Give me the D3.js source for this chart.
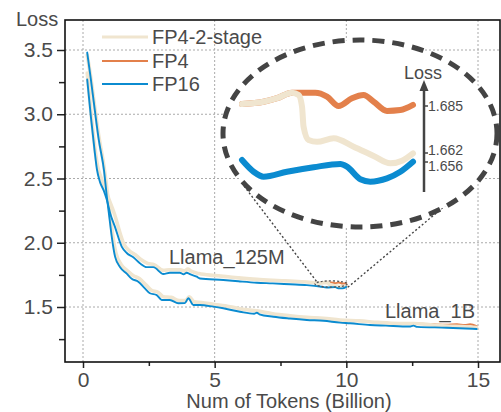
<!DOCTYPE html>
<html><head><meta charset="utf-8">
<script src="https://cdn.jsdelivr.net/npm/d3@7"></script>
<style>body{margin:0;background:#fff}svg{display:block;font-family:"Liberation Sans",Arial,sans-serif}</style>
</head><body><div id="c"></div>
<script>
// ---------- data ----------
const seriesNames = ["FP4-2-stage", "FP4", "FP16"];
const xTicks = [0, 5, 10, 15];
const yTicks = [1.5, 2.0, 2.5, 3.0, 3.5];
const xMinor = [2.5, 7.5, 12.5];
const yMinor = [1.25, 1.75, 2.25, 2.75, 3.25];
const insetTicks = [1.685, 1.662, 1.656];
const modelLabels = ["Llama_125M", "Llama_1B"];

// Llama_125M
const m125_fp16_t = [0.16,0.30,0.45,0.53,0.65,0.80,0.91,1.03,1.22,1.47,1.66,1.91,2.16,2.42,2.67,3.05,3.30,3.68,3.82,3.94,4.06,4.32,4.44,5.33,5.9,6.6,7.2,7.86,8.5,9.0,9.26,9.58,9.69,9.85,10.0];
const m125_fp16_v = [3.27,2.98,2.70,2.57,2.47,2.40,2.33,2.23,2.12,1.97,1.92,1.887,1.84,1.81,1.81,1.757,1.767,1.767,1.755,1.767,1.755,1.736,1.722,1.71,1.70,1.689,1.684,1.677,1.670,1.660,1.652,1.655,1.645,1.645,1.656];
const m125_fp42_t = [0.16,0.30,0.45,0.55,0.70,0.85,1.0,1.2,1.4,1.55,1.75,2.0,2.2,2.45,2.7,3.05,3.3,3.7,3.85,3.98,4.1,4.4,5.0,5.5,6.0,6.6,7.2,7.86,8.5,9.0,9.29,9.36,9.5,9.7,9.87,10.0];
const m125_fp42_v = [3.32,3.02,2.74,2.60,2.50,2.42,2.33,2.22,2.08,1.99,1.94,1.905,1.87,1.84,1.83,1.785,1.79,1.79,1.78,1.795,1.78,1.76,1.745,1.735,1.725,1.715,1.708,1.702,1.695,1.686,1.6915,1.675,1.668,1.662,1.655,1.662];
const m125_fp4_t = [0.16,0.30,0.45,0.55,0.70,0.85,1.0,1.2,1.4,1.55,1.75,2.0,2.2,2.45,2.7,3.05,3.3,3.7,3.85,3.98,4.1,4.4,5.0,5.5,6.0,6.6,7.2,7.86,8.5,9.0,9.29,9.43,9.57,9.71,9.85,10.0];
const m125_fp4_v = [3.32,3.02,2.74,2.60,2.50,2.42,2.33,2.22,2.08,1.99,1.94,1.905,1.87,1.84,1.83,1.785,1.79,1.79,1.78,1.795,1.78,1.76,1.745,1.735,1.725,1.715,1.708,1.702,1.695,1.686,1.6915,1.6915,1.685,1.690,1.683,1.6855];

// Llama_1B
const m1b_fp16_t = [0.16,0.30,0.45,0.60,0.80,0.91,1.0,1.09,1.22,1.41,1.66,1.85,2.10,2.35,2.54,2.80,2.99,3.30,3.62,3.87,4.0,4.19,4.44,4.95,5.33,5.96,6.5,6.6,6.7,7.23,7.86,8.5,9.13,9.76,10.14,10.9,11.5,12.4,12.55,12.7,13.81,14.95];
const m1b_fp16_v = [3.48,3.27,3.03,2.80,2.56,2.35,2.20,2.05,1.89,1.81,1.76,1.72,1.697,1.645,1.607,1.593,1.555,1.555,1.529,1.53,1.568,1.516,1.516,1.503,1.49,1.463,1.447,1.455,1.443,1.424,1.41,1.399,1.393,1.378,1.373,1.36,1.355,1.348,1.355,1.345,1.339,1.329];
const m1b_fp42_t = [0.16,0.30,0.45,0.60,0.80,0.93,1.03,1.12,1.25,1.45,1.7,1.9,2.15,2.4,2.6,2.85,3.05,3.35,3.65,3.9,4.03,4.22,4.5,5.0,5.4,6.0,6.6,7.2,7.86,8.5,9.13,9.76,10.5,11.2,12.0,12.55,13.3,13.8,14.4,14.95];
const m1b_fp42_v = [3.46,3.28,3.05,2.83,2.59,2.38,2.22,2.07,1.92,1.83,1.78,1.745,1.72,1.67,1.63,1.615,1.58,1.575,1.55,1.55,1.58,1.54,1.535,1.52,1.51,1.485,1.47,1.448,1.432,1.42,1.413,1.398,1.392,1.38,1.372,1.372,1.36,1.352,1.348,1.340];
const m1b_fp4_t = [0.16,0.30,0.45,0.60,0.80,0.93,1.03,1.12,1.25,1.45,1.7,1.9,2.15,2.4,2.6,2.85,3.05,3.35,3.65,3.9,4.03,4.22,4.5,5.0,5.4,6.0,6.6,7.2,7.86,8.5,9.13,9.76,10.5,11.2,12.0,12.55,13.3,13.8,14.2,14.5,14.7,14.95];
const m1b_fp4_v = [3.46,3.28,3.05,2.83,2.59,2.38,2.22,2.07,1.92,1.83,1.78,1.745,1.72,1.67,1.63,1.615,1.58,1.575,1.55,1.55,1.58,1.54,1.535,1.52,1.51,1.485,1.47,1.448,1.432,1.42,1.413,1.398,1.392,1.38,1.372,1.372,1.365,1.362,1.365,1.36,1.366,1.35];

// Zoomed inset (Llama_125M, 9-10B tokens)
const zoomT = [8.81, 10.03];
const zoomV = [1.582, 1.776];
const in_fp42_t = [9.000,9.126,9.205,9.292,9.331,9.351,9.360,9.389,9.439,9.536,9.653,9.770,9.867,9.936,10.0];
const in_fp42_v = [1.6860,1.6871,1.6888,1.6915,1.6904,1.6847,1.6749,1.6684,1.6675,1.6692,1.6651,1.6600,1.6551,1.6569,1.6618];
const in_fp4_t = [9.000,9.126,9.205,9.292,9.429,9.497,9.565,9.643,9.711,9.770,9.848,9.926,10.0];
const in_fp4_v = [1.6860,1.6871,1.6888,1.6915,1.6915,1.6896,1.6850,1.6888,1.6904,1.6871,1.6826,1.6830,1.6855];
const in_fp16_t = [9.000,9.068,9.126,9.263,9.419,9.575,9.614,9.692,9.750,9.848,9.926,10.0];
const in_fp16_v = [1.6573,1.6495,1.6462,1.6495,1.6525,1.6547,1.6529,1.6445,1.6429,1.6451,1.6495,1.6562];

// ---------- drawing ----------
const W = 501, H = 412;
const colors = {"FP4-2-stage":"#f0e5cf", "FP4":"#e3804b", "FP16":"#0b8bd0"};
const txt = "#4a4a4a";
const svg = d3.select("#c").append("svg").attr("width", W).attr("height", H);
const L = 65, R = 500, T = 20, B = 362;
const x = d3.scaleLinear().domain([0, 15]).range([83, 478]);
const y = d3.scaleLinear().domain([1.5, 3.5]).range([307, 50]);

// grid
const grid = svg.append("g").attr("stroke", "#aaa").attr("stroke-width", 1).attr("stroke-dasharray", "2,2");
xTicks.forEach(t => grid.append("line").attr("x1", x(t)).attr("x2", x(t)).attr("y1", T).attr("y2", B));
yTicks.forEach(t => grid.append("line").attr("x1", L).attr("x2", R).attr("y1", y(t)).attr("y2", y(t)));

// axes
const xAxis = d3.axisBottom(x).tickValues(xTicks).tickFormat(d3.format("d")).tickSize(6).tickPadding(4);
const gx = svg.append("g").attr("transform", `translate(0,${B})`).call(xAxis);
const gxm = svg.append("g").attr("transform", `translate(0,${B})`).call(d3.axisBottom(x).tickValues(xMinor).tickFormat("").tickSize(4));
const yAxis = d3.axisLeft(y).tickValues(yTicks).tickFormat(d3.format(".1f")).tickSize(8).tickPadding(4);
const gy = svg.append("g").attr("transform", `translate(${L},0)`).call(yAxis);
const gym = svg.append("g").attr("transform", `translate(${L},0)`).call(d3.axisLeft(y).tickValues(yMinor).tickFormat("").tickSize(6));
[gx, gxm, gy, gym].forEach(g => {
  g.select(".domain").remove();
  g.selectAll(".tick line").attr("stroke", "#222").attr("stroke-width", 1.5);
  g.selectAll(".tick text").attr("fill", txt).attr("font-size", 21).attr("font-family", "Liberation Sans, Arial, sans-serif");
});

// frame
svg.append("rect").attr("x", L).attr("y", T).attr("width", R - L).attr("height", B - T)
  .attr("fill", "none").attr("stroke", "#111").attr("stroke-width", 1.6);

// labels
svg.append("text").attr("x", 16).attr("y", 26).attr("fill", txt).attr("font-size", 20).text("Loss");
svg.append("text").attr("x", 289).attr("y", 408).attr("text-anchor", "middle").attr("fill", txt).attr("font-size", 20).text("Num of Tokens (Billion)");
svg.append("text").attr("x", 169).attr("y", 264).attr("fill", txt).attr("font-size", 20).text(modelLabels[0]);
svg.append("text").attr("x", 475).attr("y", 318).attr("text-anchor", "end").attr("fill", txt).attr("font-size", 20).text(modelLabels[1]);

// main curves
const line = d3.line().x(d => x(d[0])).y(d => y(d[1])).curve(d3.curveMonotoneX);
const zip = (a, b) => a.map((t, i) => [t, b[i]]);
const mainSeries = [
  {n:"FP4", t:m125_fp4_t, v:m125_fp4_v, w:2},
  {n:"FP4", t:m1b_fp4_t, v:m1b_fp4_v, w:2},
  {n:"FP4-2-stage", t:m125_fp42_t, v:m125_fp42_v, w:3.6},
  {n:"FP4-2-stage", t:m1b_fp42_t, v:m1b_fp42_v, w:3.6},
  {n:"FP16", t:m125_fp16_t, v:m125_fp16_v, w:1.9},
  {n:"FP16", t:m1b_fp16_t, v:m1b_fp16_v, w:1.9}
];
mainSeries.forEach(s => svg.append("path").attr("d", line(zip(s.t, s.v)))
  .attr("fill", "none").attr("stroke", colors[s.n]).attr("stroke-width", s.w)
  .attr("stroke-linejoin", "round").attr("stroke-linecap", "round"));

// legend
const legY = [37, 61, 84];
seriesNames.forEach((n, i) => {
  svg.append("line").attr("x1", 102).attr("x2", 148).attr("y1", legY[i]).attr("y2", legY[i])
    .attr("stroke", colors[n]).attr("stroke-width", n === "FP4-2-stage" ? 3 : 2);
  svg.append("text").attr("x", 152).attr("y", legY[i] + 7).attr("fill", txt).attr("font-size", 20).text(n);
});

// zoom marker + connectors
svg.append("ellipse").attr("cx", x(9.42)).attr("cy", y(1.679))
  .attr("rx", (x(zoomT[1]) - x(zoomT[0])) / 2).attr("ry", (y(zoomV[0]) - y(zoomV[1])) / 8)
  .attr("fill", "none").attr("stroke", "#555").attr("stroke-width", 1.3).attr("stroke-dasharray", "2,2");
const con = svg.append("g").attr("stroke", "#444").attr("stroke-width", 1.4).attr("stroke-dasharray", "2,2.2");
con.append("line").attr("x1", 244).attr("y1", 186).attr("x2", 317).attr("y2", 282);
con.append("line").attr("x1", 478).attr("y1", 178).attr("x2", 347).attr("y2", 288);

// inset
svg.append("ellipse").attr("cx", 360).attr("cy", 133.5).attr("rx", 137).attr("ry", 93.5)
  .attr("fill", "#fff").attr("stroke", "#444").attr("stroke-width", 5).attr("stroke-dasharray", "12,8");
const ix = d3.scaleLinear().domain([9.0, 10.0]).range([242, 413]);
const iy = d3.scaleLinear().domain([1.656, 1.662, 1.685]).range([162, 153, 106]);
const iline = d3.line().x(d => ix(d[0])).y(d => iy(d[1])).curve(d3.curveMonotoneX);
[["FP4", in_fp4_t, in_fp4_v], ["FP4-2-stage", in_fp42_t, in_fp42_v], ["FP16", in_fp16_t, in_fp16_v]].forEach(s =>
  svg.append("path").attr("d", iline(zip(s[1], s[2]))).attr("fill", "none").attr("stroke", colors[s[0]])
    .attr("stroke-width", 6).attr("stroke-linecap", "round").attr("stroke-linejoin", "round"));
// inset axis
svg.append("line").attr("x1", 424).attr("x2", 424).attr("y1", 192).attr("y2", 88).attr("stroke", "#444").attr("stroke-width", 2.5);
svg.append("path").attr("d", "M424,80 L419.5,91 L428.5,91 Z").attr("fill", "#444");
svg.append("text").attr("x", 423).attr("y", 79).attr("text-anchor", "middle").attr("fill", txt).attr("font-size", 18).text("Loss");
const labelNudge = {"1.685": 0, "1.662": -3, "1.656": 4};
insetTicks.forEach(v => {
  svg.append("line").attr("x1", 424).attr("x2", 428).attr("y1", iy(v)).attr("y2", iy(v)).attr("stroke", "#444").attr("stroke-width", 1.5);
  svg.append("text").attr("x", 428).attr("y", iy(v) + labelNudge[v.toFixed(3)]).attr("dy", "0.36em").attr("fill", txt).attr("font-size", 14).text(v.toFixed(3));
});
</script></body></html>
